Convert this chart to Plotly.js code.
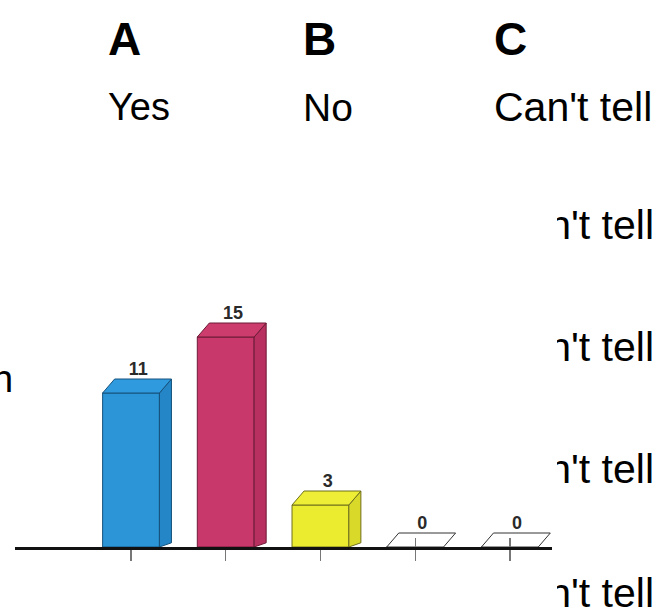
<!DOCTYPE html>
<html><head><meta charset="utf-8">
<script src="https://cdn.plot.ly/plotly-3.0.1.min.js"></script>
<style>html,body{margin:0;padding:0;background:#fff}#chart{width:660px;height:613px}</style>
</head><body><div id="chart"></div>
<script>
// ---- data ----
const categories = [0, 1, 2, 3, 4];
const values = [11, 15, 3, 0, 0];
const frontColors = ['#2b95d8', '#c8386a', '#ebeb2f', '#ffffff', '#ffffff'];
const sideColors  = ['#2486c6', '#b8305f', '#d9d92a', '#ffffff', '#ffffff'];
const topColors   = ['#2f9ade', '#cc3d6e', '#eeee36', '#ffffff', '#ffffff'];
const edgeColors  = ['#16527c', '#6d1a37', '#6f6f1c', '#333333', '#333333'];
const optionLetters = ['A', 'B', 'C'];
const optionLabels = ['Yes', 'No', "Can't tell"];
const clippedRight = ["Can't tell", "Can't tell", "Can't tell", "Can't tell"];
const clippedLeft = ['n'];

// ---- geometry (style) ----
const W = 660, H = 613;
const M = {l: 15, r: 108, t: 267, b: 66};
const xRange = [-1.225, 4.445];
const yRange = [0, 20];
const barW = 0.6, dx = 0.127, dy = 1.0;
const pw = W - M.l - M.r, ph = H - M.t - M.b;
const px = v => (v - M.l) / pw;
const py = v => (H - M.b - v) / ph;

const traces = [];
traces.push({
  type: 'bar', x: categories, y: values, width: barW,
  marker: {color: frontColors, line: {color: edgeColors, width: 1}},
  hoverinfo: 'skip', showlegend: false
});
categories.forEach((c, i) => {
  const v = values[i];
  const x0 = c - barW / 2, x1 = c + barW / 2;
  if (v > 0) {
    traces.push({
      type: 'scatter', mode: 'lines', fill: 'toself',
      x: [x1, x1, x1 + dx, x1 + dx, x1],
      y: [0, v, v + dy, dy * 0.3, 0],
      fillcolor: sideColors[i], line: {color: edgeColors[i], width: 1},
      hoverinfo: 'skip', showlegend: false
    });
  }
  traces.push({
    type: 'scatter', mode: 'lines', fill: 'toself',
    x: [x0, x1, x1 + dx, x0 + dx, x0],
    y: [v, v, v + dy, v + dy, v],
    fillcolor: topColors[i], line: {color: edgeColors[i], width: 1},
    hoverinfo: 'skip', showlegend: false
  });
});
traces.push({
  type: 'scatter', mode: 'text',
  x: categories.map(c => c + dx * 0.6),
  y: values.map(v => v + dy),
  text: values.map(String), textposition: 'top center',
  textfont: {family: 'Liberation Sans Narrow, Arial Narrow, sans-serif', size: 18, color: '#2a2a2a', weight: 'bold'},
  cliponaxis: false, hoverinfo: 'skip', showlegend: false
});
const zeroCats = categories.filter((c, i) => values[i] === 0);
traces.push({type: 'scatter', x: [], y: [], xaxis: 'x2', yaxis: 'y', showlegend: false, hoverinfo: 'skip'});

const font = 'Liberation Sans, Arial, sans-serif';
const letterX = [107, 302, 493];
const labelSize = [38, 39, 41];
const annotations = [];
optionLetters.forEach((t, i) => annotations.push({
  text: '<b>' + t + '</b>', xref: 'paper', yref: 'paper', x: px(letterX[i]), y: py(39),
  xanchor: 'left', yanchor: 'middle', showarrow: false, borderpad: 0,
  font: {family: font, size: 46, color: '#000'}
}));
optionLabels.forEach((t, i) => annotations.push({
  text: t, xref: 'paper', yref: 'paper', x: px(letterX[i]), y: py(107),
  xanchor: 'left', yanchor: 'middle', showarrow: false, borderpad: 0,
  font: {family: font, size: labelSize[i], color: '#000'}
}));
const rightY = [225, 347, 469, 593];
clippedRight.forEach((t, i) => annotations.push({
  text: t, xref: 'paper', yref: 'paper', x: px(655), y: py(rightY[i]),
  xanchor: 'right', yanchor: 'middle', showarrow: false, borderpad: 0,
  width: 97, align: 'right',
  font: {family: font, size: 41, color: '#000'}
}));
clippedLeft.forEach(t => annotations.push({
  text: t, xref: 'paper', yref: 'paper', x: px(14), y: py(379),
  xanchor: 'right', yanchor: 'middle', showarrow: false, borderpad: 0,
  font: {family: font, size: 38, color: '#000'}
}));

const layout = {
  width: W, height: H, margin: M,
  paper_bgcolor: '#fff', plot_bgcolor: '#fff',
  showlegend: false,
  xaxis: {range: xRange, tickvals: categories, ticks: 'outside', ticklen: 11, tickwidth: 1.3,
    tickcolor: '#777', showticklabels: false, showgrid: false, zeroline: false,
    showline: true, linecolor: '#111', linewidth: 2.5, fixedrange: true},
  xaxis2: {overlaying: 'x', matches: 'x', range: xRange, tickvals: zeroCats, ticks: 'inside',
    ticklen: 9, tickwidth: 1.3, tickcolor: '#777', showticklabels: false, showgrid: false,
    zeroline: false, showline: false, side: 'bottom'},
  yaxis: {range: yRange, visible: false, fixedrange: true},
  annotations: annotations
};
Plotly.newPlot('chart', traces, layout, {staticPlot: true, displayModeBar: false});
</script></body></html>
